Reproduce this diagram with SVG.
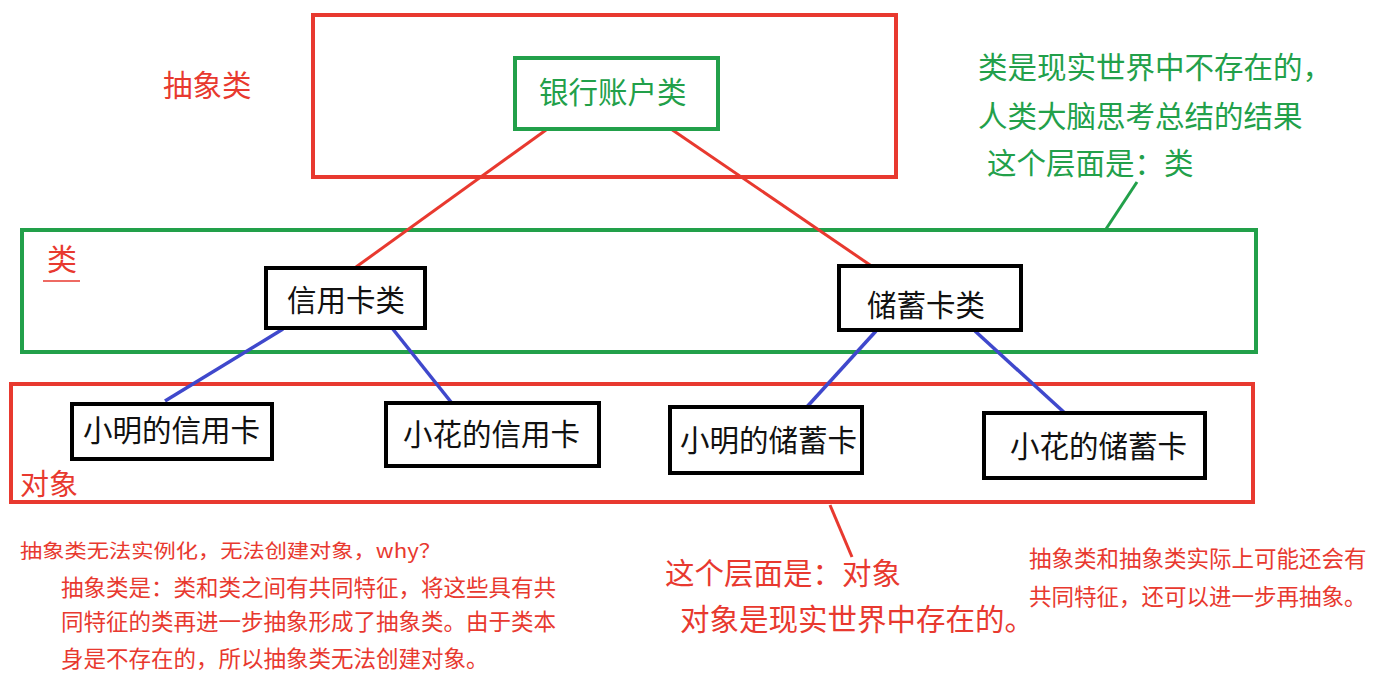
<svg xmlns="http://www.w3.org/2000/svg" width="1383" height="683" viewBox="0 0 1383 683">
<style>
text{font-family:"Microsoft YaHei","Noto Sans CJK SC","Noto Sans",sans-serif}
.red{fill:#e8392f}
.green{fill:#22a04a}
.blk{fill:#111}
.rbox{fill:none;stroke:#e8392f;stroke-width:4}
.gbox{fill:none;stroke:#22a04a;stroke-width:4}
.kbox{fill:#fff;stroke:#000;stroke-width:4}
.rl{stroke:#e8392f;stroke-width:3;fill:none}
.bl{stroke:#3f48cc;stroke-width:3.5;fill:none}
.gl{stroke:#22a04a;stroke-width:3;fill:none}
.n{font-size:29.5px}
</style>
<rect width="1383" height="683" fill="#fff"/>
<g id="layers">
<rect id="layer-abstract" class="rbox" x="313" y="15" width="583" height="162"/>
<rect id="layer-class" class="gbox" x="22" y="230" width="1234" height="122"/>
<rect id="layer-object" class="rbox" x="11" y="384" width="1242" height="118"/>
<text class="red" x="163" y="96" font-size="29.5">抽象类</text>
<text class="red" x="47" y="270" font-size="30">类</text>
<line x1="43" y1="281" x2="80" y2="281" stroke="#e8392f" stroke-width="1.5"/>
<text class="red" x="20" y="495" font-size="29">对象</text>
</g>
<g id="connectors">
<line class="rl" x1="546" y1="130" x2="356" y2="267"/>
<line class="rl" x1="671" y1="129" x2="873" y2="267"/>
<line class="bl" x1="283" y1="329" x2="165" y2="401"/>
<line class="bl" x1="392" y1="328" x2="451" y2="402"/>
<line class="bl" x1="876" y1="331" x2="805" y2="409"/>
<line class="bl" x1="975" y1="331" x2="1067" y2="415"/>
<line class="gl" x1="1137" y1="182" x2="1106" y2="229"/>
<line class="rl" x1="830" y1="505" x2="852" y2="557"/>
</g>
<g id="bank">
<rect x="515" y="58" width="203" height="71" fill="#fff" stroke="#22a04a" stroke-width="4"/>
<text class="green n" x="539" y="103">银行账户类</text>
</g>
<g id="credit">
<rect class="kbox" x="266" y="268" width="159" height="60"/>
<text class="blk n" x="287" y="311">信用卡类</text>
</g>
<g id="savings">
<rect class="kbox" x="839" y="266" width="182" height="64"/>
<text class="blk n" x="867" y="316">储蓄卡类</text>
</g>
<g id="xm-credit">
<rect class="kbox" x="72" y="404" width="200" height="55"/>
<text class="blk n" x="83" y="441">小明的信用卡</text>
</g>
<g id="xh-credit">
<rect class="kbox" x="386" y="403" width="213" height="63"/>
<text class="blk n" x="403" y="445">小花的信用卡</text>
</g>
<g id="xm-savings">
<rect class="kbox" x="670" y="407" width="192" height="66"/>
<text class="blk n" x="680" y="451">小明的储蓄卡</text>
</g>
<g id="xh-savings">
<rect class="kbox" x="984" y="413" width="221" height="65"/>
<text class="blk n" x="1010" y="457">小花的储蓄卡</text>
</g>
<g id="notes">
<text class="green" font-size="29.5" x="978" y="78">类是现实世界中不存在的，</text>
<text class="green" font-size="29.5" x="978" y="127">人类大脑思考总结的结果</text>
<text class="green" font-size="29.5" x="987" y="174">这个层面是：类</text>
<text class="red" font-size="19.5" x="20" y="558" textLength="421" lengthAdjust="spacingAndGlyphs">抽象类无法实例化，无法创建对象，why？</text>
<text class="red" font-size="22.5" x="61" y="596">抽象类是：类和类之间有共同特征，将这些具有共</text>
<text class="red" font-size="22.5" x="61" y="630">同特征的类再进一步抽象形成了抽象类。由于类本</text>
<text class="red" font-size="22.5" x="61" y="667">身是不存在的，所以抽象类无法创建对象。</text>
<text class="red" font-size="29.5" x="665" y="584">这个层面是：对象</text>
<text class="red" font-size="29.5" x="680" y="630">对象是现实世界中存在的。</text>
<text class="red" font-size="22.5" x="1029" y="567">抽象类和抽象类实际上可能还会有</text>
<text class="red" font-size="22.5" x="1029" y="605">共同特征，还可以进一步再抽象。</text>
</g>
</svg>
